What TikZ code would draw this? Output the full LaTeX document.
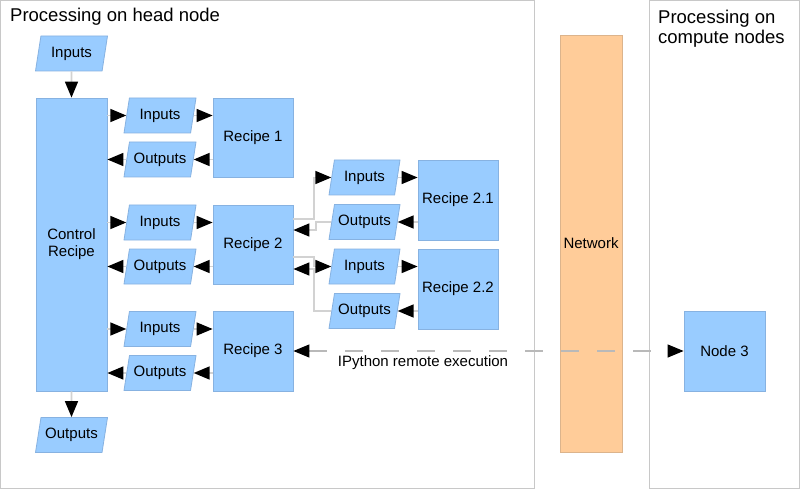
\documentclass[tikz,border=0pt]{standalone}
\usepackage{fontspec}
\setmainfont{Liberation Sans}
\usetikzlibrary{shapes.geometric,arrows.meta}
\definecolor{boxblue}{RGB}{153,204,255}
\definecolor{boxedge}{RGB}{135,178,225}
\definecolor{netfill}{RGB}{255,204,153}
\definecolor{netedge}{RGB}{220,180,140}
\definecolor{panelline}{RGB}{200,200,200}
\definecolor{connline}{RGB}{210,210,210}
\definecolor{dashline}{RGB}{185,185,185}
\begin{document}
\begin{tikzpicture}[x=1pt,y=-1pt,
  lbl/.style={font=\fontsize{15}{17}\selectfont,align=center,inner sep=0pt},
  box/.style={lbl,draw=boxedge,fill=boxblue,line width=0.8pt},
  rbox/.style={box,rectangle,minimum width=80pt,minimum height=80pt},
  para/.style={box,trapezium,trapezium left angle=68,trapezium right angle=112,
    trapezium stretches body,minimum width=72pt,minimum height=35pt},
  conn/.style={draw=connline,line width=1.6pt,-{Triangle[length=16pt,width=13pt,color=black]}},
  remote/.style={draw=dashline,line width=1.2pt,dash pattern=on 18pt off 18pt,
    {Triangle[length=16pt,width=13pt,color=black]}-{Triangle[length=16pt,width=13pt,color=black]}},
  title/.style={font=\fontsize{18.5}{20}\selectfont,align=left,inner sep=0pt}
]
\useasboundingbox (0,0) rectangle (800,489);
\fill[white] (0,0) rectangle (800,489);
% panels
\draw[panelline,line width=1pt] (0.5,0.5) rectangle (534,488);
\draw[panelline,line width=1pt] (649,0.5) rectangle (799.5,488);
\node[title,anchor=base west] (t1) at (10,22) {Processing on head node};
\node[title,anchor=north west] (t2) at (658,10) {Processing on\\compute nodes};
% network
\node[lbl,draw=netedge,fill=netfill,line width=0.8pt,minimum width=62pt,minimum height=417pt] (net) at (591,243.5) {Network};
% head node
\node[para] (inTop) at (71.5,53.5) {Inputs};
\node[box,rectangle,minimum width=71pt,minimum height=293pt] (ctrl) at (71.5,244.5) {Control\\Recipe};
\node[para] (outBot) at (71.5,435) {Outputs};
% row 1
\node[para] (in1) at (160,115.5) {Inputs};
\node[para] (out1) at (160,159.5) {Outputs};
\node[rbox,minimum height=79pt] (rec1) at (253,137.5) {Recipe 1};
% row 2
\node[para] (in2) at (160,222.5) {Inputs};
\node[para] (out2) at (160,266.5) {Outputs};
\node[rbox,minimum height=79pt] (rec2) at (253,244.5) {Recipe 2};
% row 3
\node[para] (in3) at (160,329) {Inputs};
\node[para] (out3) at (160,373) {Outputs};
\node[rbox] (rec3) at (253,351) {Recipe 3};
% sub recipes
\node[para,minimum width=71pt] (in21) at (364.5,177.5) {Inputs};
\node[para,minimum width=71pt] (out21) at (364.5,222) {Outputs};
\node[rbox] (rec21) at (458,200) {Recipe 2.1};
\node[para,minimum width=71pt] (in22) at (364.5,266.5) {Inputs};
\node[para,minimum width=71pt] (out22) at (364.5,311) {Outputs};
\node[rbox] (rec22) at (458,289) {Recipe 2.2};
% compute node
\node[rbox,minimum width=81pt] (node3) at (724.5,351) {Node 3};
% connectors
\draw[conn] (inTop) -- (ctrl);
\draw[conn] (ctrl) -- (outBot);
\foreach \i in {1,2,3}{
  \draw[conn] (ctrl.east |- in\i.west) -- (in\i.west);
  \draw[conn] (in\i.east) -- (rec\i.west |- in\i.east);
  \draw[conn] (rec\i.west |- out\i.east) -- (out\i.east);
  \draw[conn] (out\i.west) -- (ctrl.east |- out\i.west);
}
\foreach \j in {21,22}{
  \draw[conn] (in\j.east) -- (rec\j.west |- in\j.east);
  \draw[conn] (rec\j.west |- out\j.east) -- (out\j.east);
}
\coordinate (b1) at (314,219);
\coordinate (b2) at (316,230);
\coordinate (b3) at (314,257);
\coordinate (b4) at (314,269);
\draw[conn] (rec2.east |- b1) -- (b1) |- (in21.west);
\draw[conn] (out21.west) -| (b2) -- (rec2.east |- b2);
\draw[conn] (rec2.east |- b3) -- (b3) |- (in22.west);
\draw[conn] (out22.west) -| (b4) -- (rec2.east |- b4);
\draw[remote] (rec3.east) -- (node3.west);
\node[lbl,anchor=north] (ipy) at (423,355.5) {IPython remote execution};
\end{tikzpicture}
\end{document}
